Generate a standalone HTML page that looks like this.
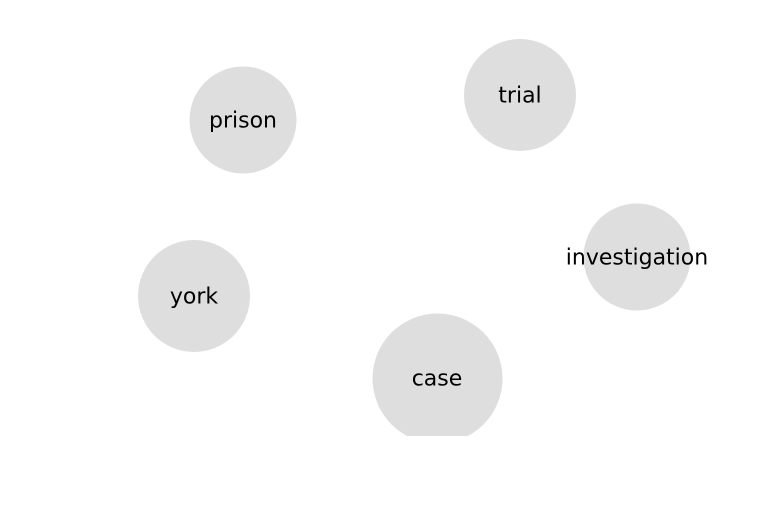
<!DOCTYPE html>
<html><head><style>body{margin:0;background:#fff}</style></head><body>
<svg width="768" height="500" xmlns="http://www.w3.org/2000/svg" font-family="DejaVu Sans, sans-serif" font-size="22" text-anchor="middle" dominant-baseline="central">
<defs><clipPath id="c"><rect x="0" y="0" width="768" height="436"/></clipPath></defs>
<g fill="#dedede">
<circle cx="243" cy="120" r="53.5"/>
<circle cx="520" cy="95" r="56"/>
<circle cx="637" cy="257" r="53.5"/>
<circle cx="194" cy="296" r="56"/>
<circle cx="437.5" cy="378.5" r="65" clip-path="url(#c)"/>
</g>
<g fill="#000">
<text x="243" y="121">prison</text>
<text x="520" y="96">trial</text>
<text x="637" y="258">investigation</text>
<text x="194" y="297">york</text>
<text x="437" y="379">case</text>
</g>
</svg>
</body></html>
